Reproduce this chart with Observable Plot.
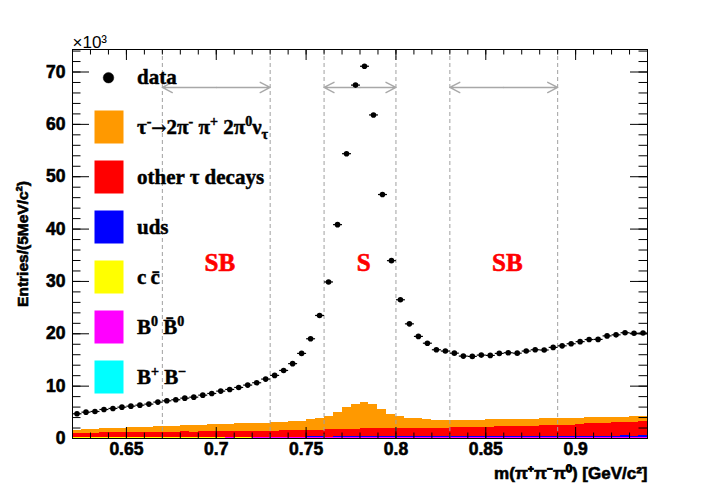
<!DOCTYPE html>
<html><head><meta charset="utf-8">
<script src="https://cdn.jsdelivr.net/npm/d3@7"></script>
<script src="https://cdn.jsdelivr.net/npm/@observablehq/plot@0.6"></script>
<style>body{margin:0;background:#fff} svg{display:block} #chart svg text{font-weight:bold}</style>
</head><body><div id="chart"></div>
<script>
// ---- data (entries ×10^3 per 5 MeV/c^2 bin, from 0.62 to 0.94 GeV/c^2) ----
const dataCounts = [4.72,5.03,5.16,5.54,5.74,5.99,6.18,6.37,6.57,6.95,
  7.20,7.40,7.71,7.90,8.28,8.60,9.05,9.37,9.75,10.20,
  10.65,11.35,12.05,13.00,14.30,16.25,19.05,23.50,29.90,40.85,
  54.40,67.50,71.10,61.80,46.60,33.97,26.50,21.90,19.50,18.20,
  16.95,16.70,16.30,15.74,15.68,15.93,15.87,16.25,16.38,16.30,
  16.70,16.95,16.90,17.40,17.70,18.10,18.50,18.90,18.93,19.60,
  19.80,20.20,20.10,20.15];
const sigTau = [0.70,0.72,0.73,0.75,0.80,0.84,0.89,0.93,0.98,1.03,
  1.08,1.12,1.17,1.21,1.27,1.30,1.35,1.39,1.44,1.49,
  1.53,1.56,1.60,1.64,1.68,1.80,2.02,2.23,2.58,3.30,
  4.08,4.74,5.05,4.60,3.75,2.73,2.18,1.90,1.78,1.65,
  1.55,1.53,1.38,1.37,1.40,1.37,1.40,1.38,1.40,1.42,
  1.42,1.40,1.35,1.30,1.30,1.30,1.30,1.16,1.12,1.10,
  1.10,1.05,1.05,1.02];
const otherTau = [0.78,0.83,0.88,0.93,0.95,0.97,0.99,1.00,1.02,1.03,
  1.05,1.07,1.08,1.07,1.08,1.10,1.11,1.13,1.14,1.15,
  1.17,1.16,1.18,1.20,1.23,1.26,1.29,1.33,1.38,1.43,
  1.48,1.47,1.51,1.51,1.51,1.53,1.61,1.61,1.63,1.61,
  1.61,1.58,1.68,1.71,1.71,1.74,1.76,1.78,1.81,1.84,
  1.86,1.86,1.96,2.03,2.06,2.11,2.16,2.33,2.39,2.46,
  2.51,2.56,2.61,2.69];
const uds = [0.00,0.00,0.00,0.00,0.00,0.00,0.01,0.01,0.01,0.01,
  0.01,0.01,0.02,0.02,0.03,0.04,0.04,0.05,0.05,0.06,
  0.06,0.07,0.08,0.08,0.09,0.09,0.10,0.10,0.11,0.12,
  0.13,0.14,0.15,0.15,0.16,0.16,0.16,0.17,0.17,0.17,
  0.18,0.19,0.19,0.20,0.20,0.21,0.21,0.22,0.22,0.22,
  0.23,0.23,0.24,0.24,0.24,0.25,0.25,0.25,0.26,0.26,
  0.26,0.27,0.27,0.27];
const ccbar = [0.05,0.05,0.05,0.06,0.05,0.06,0.06,0.06,0.06,0.06,
  0.06,0.06,0.07,0.06,0.07,0.07,0.07,0.07,0.07,0.07,
  0.07,0.07,0.07,0.08,0.07,0.07,0.08,0.08,0.07,0.08,
  0.08,0.08,0.08,0.08,0.08,0.08,0.08,0.08,0.08,0.08,
  0.08,0.08,0.08,0.08,0.08,0.08,0.08,0.08,0.08,0.08,
  0.08,0.08,0.08,0.08,0.08,0.08,0.08,0.08,0.08,0.08,
  0.08,0.08,0.08,0.08];
const b0b0 = [0.03,0.03,0.03,0.03,0.03,0.03,0.03,0.03,0.03,0.03,
  0.03,0.03,0.03,0.03,0.03,0.03,0.03,0.04,0.03,0.03,
  0.04,0.03,0.04,0.04,0.03,0.04,0.04,0.04,0.04,0.04,
  0.04,0.04,0.04,0.04,0.04,0.04,0.04,0.04,0.04,0.04,
  0.04,0.04,0.04,0.04,0.04,0.04,0.04,0.04,0.04,0.04,
  0.04,0.04,0.04,0.04,0.04,0.04,0.04,0.04,0.04,0.04,
  0.04,0.04,0.04,0.04];
const bpbm = [0.05,0.05,0.06,0.05,0.05,0.06,0.05,0.06,0.06,0.05,
  0.06,0.06,0.05,0.06,0.06,0.06,0.05,0.06,0.06,0.06,
  0.06,0.07,0.06,0.06,0.07,0.06,0.07,0.07,0.06,0.07,
  0.07,0.07,0.07,0.07,0.06,0.07,0.07,0.07,0.07,0.07,
  0.07,0.08,0.07,0.07,0.08,0.07,0.08,0.08,0.07,0.08,
  0.08,0.08,0.08,0.07,0.08,0.08,0.08,0.08,0.09,0.08,
  0.08,0.09,0.08,0.09];
const xTicks = [0.65, 0.7, 0.75, 0.8, 0.85, 0.9];
const yTicks = [0, 10, 20, 30, 40, 50, 60, 70];
const regionEdges = [0.67, 0.73, 0.76, 0.80, 0.83, 0.89];
const regions = [
  {label: "SB", lo: 0.67, hi: 0.73, labelX: 0.702},
  {label: "S",  lo: 0.76, hi: 0.80, labelX: 0.782},
  {label: "SB", lo: 0.83, hi: 0.89, labelX: 0.862}
];
const regionLabelY = 33.6;
const arrowLevel = 67.05;

// ---- layout ----
const W = 719, H = 487, mL = 72, mR = 72, mT = 49, mB = 49;
const plotW = W - mL - mR, plotH = H - mT - mB;
const xMin = 0.62, xMax = 0.94, binWidth = 0.005;
const binLo = d3.range(dataCounts.length).map(i => xMin + i * binWidth);

const series = [
  {name: "B+B-",  values: bpbm,     color: "#00ffff"},
  {name: "B0B0",  values: b0b0,     color: "#ff00ff"},
  {name: "ccbar", values: ccbar,    color: "#ffff00"},
  {name: "uds",   values: uds,      color: "#0000ff"},
  {name: "other", values: otherTau, color: "#ff0000"},
  {name: "sig",   values: sigTau,   color: "#ff9900"}
];
const stackRows = series.flatMap(s => s.values.map((v, i) => ({series: s.name, x1: binLo[i], x2: binLo[i] + binWidth, y: v})));
const points = dataCounts.map((v, i) => ({x: binLo[i] + binWidth / 2, y: v}));

const xMinor = d3.range(62, 95).map(d => d / 100);
const yMinor = d3.range(0, 75, 2);
const tickFont = "'Liberation Sans', Arial, Helvetica, sans-serif";

const plot = Plot.plot({
  width: W, height: H, marginLeft: mL, marginRight: mR, marginTop: mT, marginBottom: mB,
  x: {domain: [xMin, xMax]},
  y: {domain: [0, 74.3]},
  color: {domain: series.map(s => s.name), range: series.map(s => s.color)},
  style: {fontFamily: tickFont, background: "white", overflow: "visible"},
  marks: [
    Plot.rectY(stackRows, {x1: "x1", x2: "x2", y: "y", fill: "series", order: series.map(s => s.name), shapeRendering: "crispEdges"}),
    Plot.ruleX(regionEdges, {x: d => d, stroke: "#a0a0a0", strokeDasharray: "4,3", strokeWidth: 1}),
    Plot.arrow(regions, {x1: d => (d.lo + d.hi) / 2, x2: d => d.lo, y1: arrowLevel, y2: arrowLevel, stroke: "#a8a8a8", strokeWidth: 1.4, headLength: 12, headAngle: 55}),
    Plot.arrow(regions, {x1: d => (d.lo + d.hi) / 2, x2: d => d.hi, y1: arrowLevel, y2: arrowLevel, stroke: "#a8a8a8", strokeWidth: 1.4, headLength: 12, headAngle: 55}),
    Plot.text(regions, {x: "labelX", y: regionLabelY, text: "label", fill: "#ff0000", fontSize: 25, fontWeight: "bold", fontFamily: "'Liberation Serif', 'Times New Roman', serif"}),
    Plot.link(points, {x1: d => d.x - binWidth / 2, x2: d => d.x + binWidth / 2, y1: "y", y2: "y", stroke: "black", strokeWidth: 1.2}),
    Plot.dot(points, {x: "x", y: "y", r: 2.8, fill: "black"}),
    Plot.frame({stroke: "black", strokeWidth: 1}),
    // inside ticks on all four sides
    Plot.tickX(xTicks, {x: d => d, insetTop: plotH - 11, stroke: "black"}),
    Plot.tickX(xMinor, {x: d => d, insetTop: plotH - 5.5, stroke: "black"}),
    Plot.tickX(xTicks, {x: d => d, insetBottom: plotH - 11, stroke: "black"}),
    Plot.tickX(xMinor, {x: d => d, insetBottom: plotH - 5.5, stroke: "black"}),
    Plot.tickY(yTicks, {y: d => d, insetRight: plotW - 17, stroke: "black"}),
    Plot.tickY(yMinor, {y: d => d, insetRight: plotW - 8.5, stroke: "black"}),
    Plot.tickY(yTicks, {y: d => d, insetLeft: plotW - 17, stroke: "black"}),
    Plot.tickY(yMinor, {y: d => d, insetLeft: plotW - 8.5, stroke: "black"}),
    Plot.axisX({ticks: xTicks, tickSize: 0, tickPadding: 4, tickFormat: d => String(d), fontSize: 17.5, fontWeight: "bold", label: null}),
    Plot.axisY({ticks: yTicks, tickSize: 0, tickPadding: 7, tickFormat: d => String(d), fontSize: 17.5, fontWeight: "bold", label: null}),
    Plot.text(["×10³"], {frameAnchor: "top-left", dy: -2, textAnchor: "start", lineAnchor: "bottom", fontSize: 17, fill: "black"}),
    Plot.text(["Entries/(5MeV/c²)"], {frameAnchor: "left", dx: -49, rotate: -90, textAnchor: "middle", lineAnchor: "middle", fontSize: 15.5, fontWeight: "bold", fill: "black"}),
    Plot.text(["m(π⁺π⁻π⁰) [GeV/c²]"], {frameAnchor: "bottom-right", dy: 35, textAnchor: "end", lineAnchor: "middle", fontSize: 17, fontWeight: "bold", fill: "black"})
  ]
});
document.getElementById("chart").appendChild(plot);
// heavier, ROOT-like glyphs: outline each text in its own fill colour
d3.select(plot).selectAll("text").each(function() {
  if (this.textContent === "×10³") { this.style.fontWeight = "normal"; return; }
  const f = getComputedStyle(this).fill;
  this.style.stroke = f;
  this.style.strokeWidth = "0.6px";
});

// ---- legend (inside the frame, top-left) ----
const legendItems = [
  {color: "#ff9900", parts: [["τ",0],["-",1],["→",2],["2π",0],["-",1],[" π",0],["+",1],[" 2π",0],["0",1],["ν",0],["τ",-1]]},
  {color: "#ff0000", parts: [["other τ decays",0]]},
  {color: "#0000ff", parts: [["uds",0]]},
  {color: "#ffff00", parts: [["c\u2009c\u0304",0]]},
  {color: "#ff00ff", parts: [["B",0],["0",1],[" B\u0304",0],["0",1]]},
  {color: "#00ffff", parts: [["B",0],["+",1],[" B",0],["−",1]]}
];
const svg = d3.select(plot);
const lg = svg.append("g")
  .attr("font-family", "'Liberation Serif', 'Times New Roman', serif")
  .attr("text-anchor", "start")
  .attr("font-weight", "bold").attr("font-size", 21).attr("fill", "black")
  .attr("stroke", "black").attr("stroke-width", 0.45);
lg.append("circle").attr("cx", 108.5).attr("cy", 77.7).attr("r", 5.3).attr("fill", "black");
lg.append("text").attr("x", 137).attr("y", 84).text("data");
legendItems.forEach((item, i) => {
  const cy = 127 + 50 * i;
  lg.append("rect").attr("x", 94.5).attr("y", cy - 16.5).attr("width", 29).attr("height", 33).attr("fill", item.color).attr("stroke", "none");
  const t = lg.append("text").attr("x", 137).attr("y", cy + 7);
  let shift = 0;
  item.parts.forEach(([s, k]) => {
    const target = k === 1 ? -8 : k === -1 ? 5 : 0;
    const ts = t.append("tspan").attr("dy", target - shift).text(s);
    if (k === 1 || k === -1) ts.attr("font-size", 14);
    if (k === 2) ts.attr("font-family", "'DejaVu Serif', serif").attr("font-weight", "normal").attr("font-size", 18);
    shift = target;
  });
});
</script>
</body></html>
